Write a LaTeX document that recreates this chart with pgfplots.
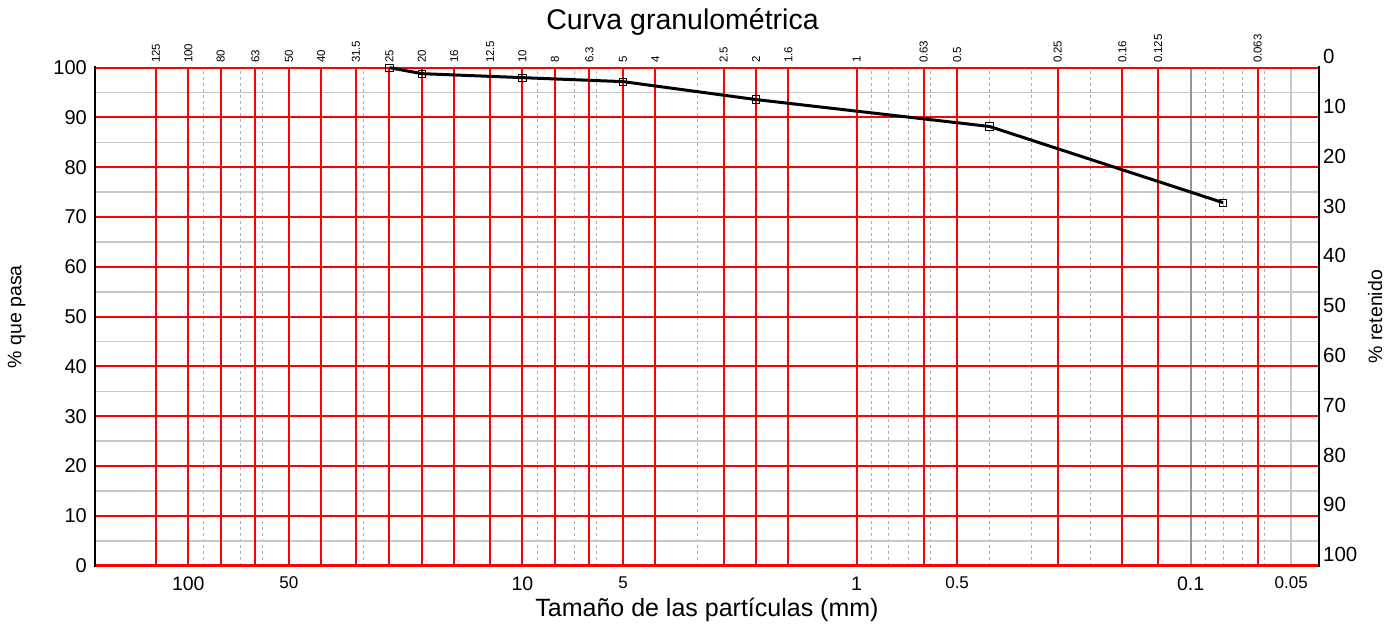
\documentclass[border=0pt]{standalone}
\usepackage{fontspec}
\setmainfont{Liberation Sans}
\usepackage{pgfplots}
\pgfplotsset{compat=1.18}

\definecolor{gridred}{RGB}{255,0,0}
\definecolor{lightgrid}{RGB}{200,200,200}
\definecolor{dashgrid}{RGB}{175,175,175}
\definecolor{decadegrid}{RGB}{150,150,150}

\newcommand{\fs}[1]{\fontsize{#1}{#1}\selectfont}

% common geometry of the two overlaid axes (sieve sizes, reversed log scale)
\pgfplotsset{
  sievebase/.style={
    scale only axis, width=1224pt, height=498pt,
    at={(95pt,62.3pt)}, anchor=south west,
    x dir=reverse, xmin=0.0413, xmax=190.3,
    ymin=0, ymax=100,
    axis line style={draw=none},
    major tick length=0pt, minor tick length=0pt,
    /pgf/number format/assume math mode=true,
    clip=false,
  }
}

\begin{document}
\begin{tikzpicture}

% background grid, bottom scale and left scale
\begin{semilogxaxis}[sievebase,
  xtick={100,50,10,5,1,0.5,0.1,0.05},
  xticklabels={{\fs{19.5}100},{\fs{17}50},{\fs{19.5}10},{\fs{17}5},{\fs{19.5}1},{\fs{17}0.5},{\fs{19.5}0.1},{\fs{17}0.05}},
  xticklabel pos=lower,
  xticklabel style={anchor=north, inner sep=0pt, yshift=-11pt},
  minor xtick={0.06,0.07,0.08,0.09,0.2,0.3,0.4,0.6,0.7,0.8,0.9,2,3,4,6,7,8,9,20,30,40,60,70,80,90},
  xmajorgrids, xminorgrids,
  major x grid style={lightgrid, line width=1.5pt},
  minor x grid style={dashgrid, line width=1pt, dash pattern=on 3pt off 3pt},
  extra x ticks={0.1}, extra x tick labels={},
  extra x tick style={xmajorgrids=true, major x grid style={decadegrid, line width=2.2pt}},
  ytick={0,10,...,100},
  minor ytick={5,15,...,95},
  yminorgrids,
  minor y grid style={lightgrid, line width=1.5pt},
  yticklabel pos=left,
  yticklabel style={anchor=east, inner sep=0pt, xshift=-8pt, font=\fs{20}},
  title={Curva granulométrica},
  every axis title/.style={at={(axis description cs:0.48,1.0757)}, anchor=base, font=\fs{28.5}, inner sep=0pt},
  xlabel={Tamaño de las partículas (mm)},
  every axis x label/.style={at={(axis description cs:0.5,-0.103)}, anchor=base, font=\fs{25}, inner sep=0pt},
  ylabel={\% que pasa},
  every axis y label/.style={at={(axis description cs:-0.0641,0.5)}, rotate=90, anchor=center, font=\fs{19.5}, inner sep=0pt},
]
\end{semilogxaxis}

% sieve openings (top scale), % retained (right scale) and the grading curve
\begin{semilogxaxis}[sievebase,
  xtick={125,100,80,63,50,40,31.5,25,20,16,12.5,10,8,6.3,5,4,2.5,2,1.6,1,0.63,0.5,0.25,0.16,0.125,0.063},
  xticklabels={125,100,80,63,50,40,31.5,25,20,16,12.5,10,8,6.3,5,4,2.5,2,1.6,1,0.63,0.5,0.25,0.16,0.125,0.063},
  xticklabel pos=upper,
  xticklabel style={rotate=90, anchor=west, inner xsep=4.5pt, inner ysep=0pt, font=\fs{11.5}},
  xmajorgrids,
  major x grid style={gridred, line width=2pt},
  ytick={0,10,...,100},
  yticklabels={100,90,80,70,60,50,40,30,20,10,0},
  yticklabel pos=right,
  yticklabel style={anchor=base west, inner sep=0pt, xshift=4pt, yshift=4pt, font=\fs{20.5}},
  ymajorgrids,
  major y grid style={gridred, line width=2pt},
  ylabel={\% retenido},
  every axis y label/.style={at={(axis description cs:1.0458,0.5)}, rotate=90, anchor=center, font=\fs{19.5}, inner sep=0pt},
]
\draw[gridred, line width=2.6pt] (rel axis cs:0,0) -- (rel axis cs:1,0);
\draw[gridred, line width=2pt] (rel axis cs:0,1) -- (rel axis cs:1,1);
\draw[black, line width=2pt] (rel axis cs:0,-0.003) -- (rel axis cs:0,1.003);
\draw[black, line width=2pt] (rel axis cs:1,-0.003) -- (rel axis cs:1,1.003);
\addplot[black, line width=3pt, line join=round,
  mark=square, mark size=3.6pt,
  mark options={solid, line width=1pt, fill=none}]
  coordinates {
    (25,100)
    (20,98.8)
    (10,98.0)
    (5,97.2)
    (2,93.6)
    (0.4,88.2)
    (0.08,72.9)
  };
\end{semilogxaxis}

\pgfresetboundingbox
\path[use as bounding box] (0,0) rectangle (1399pt,628pt);
\end{tikzpicture}
\end{document}
